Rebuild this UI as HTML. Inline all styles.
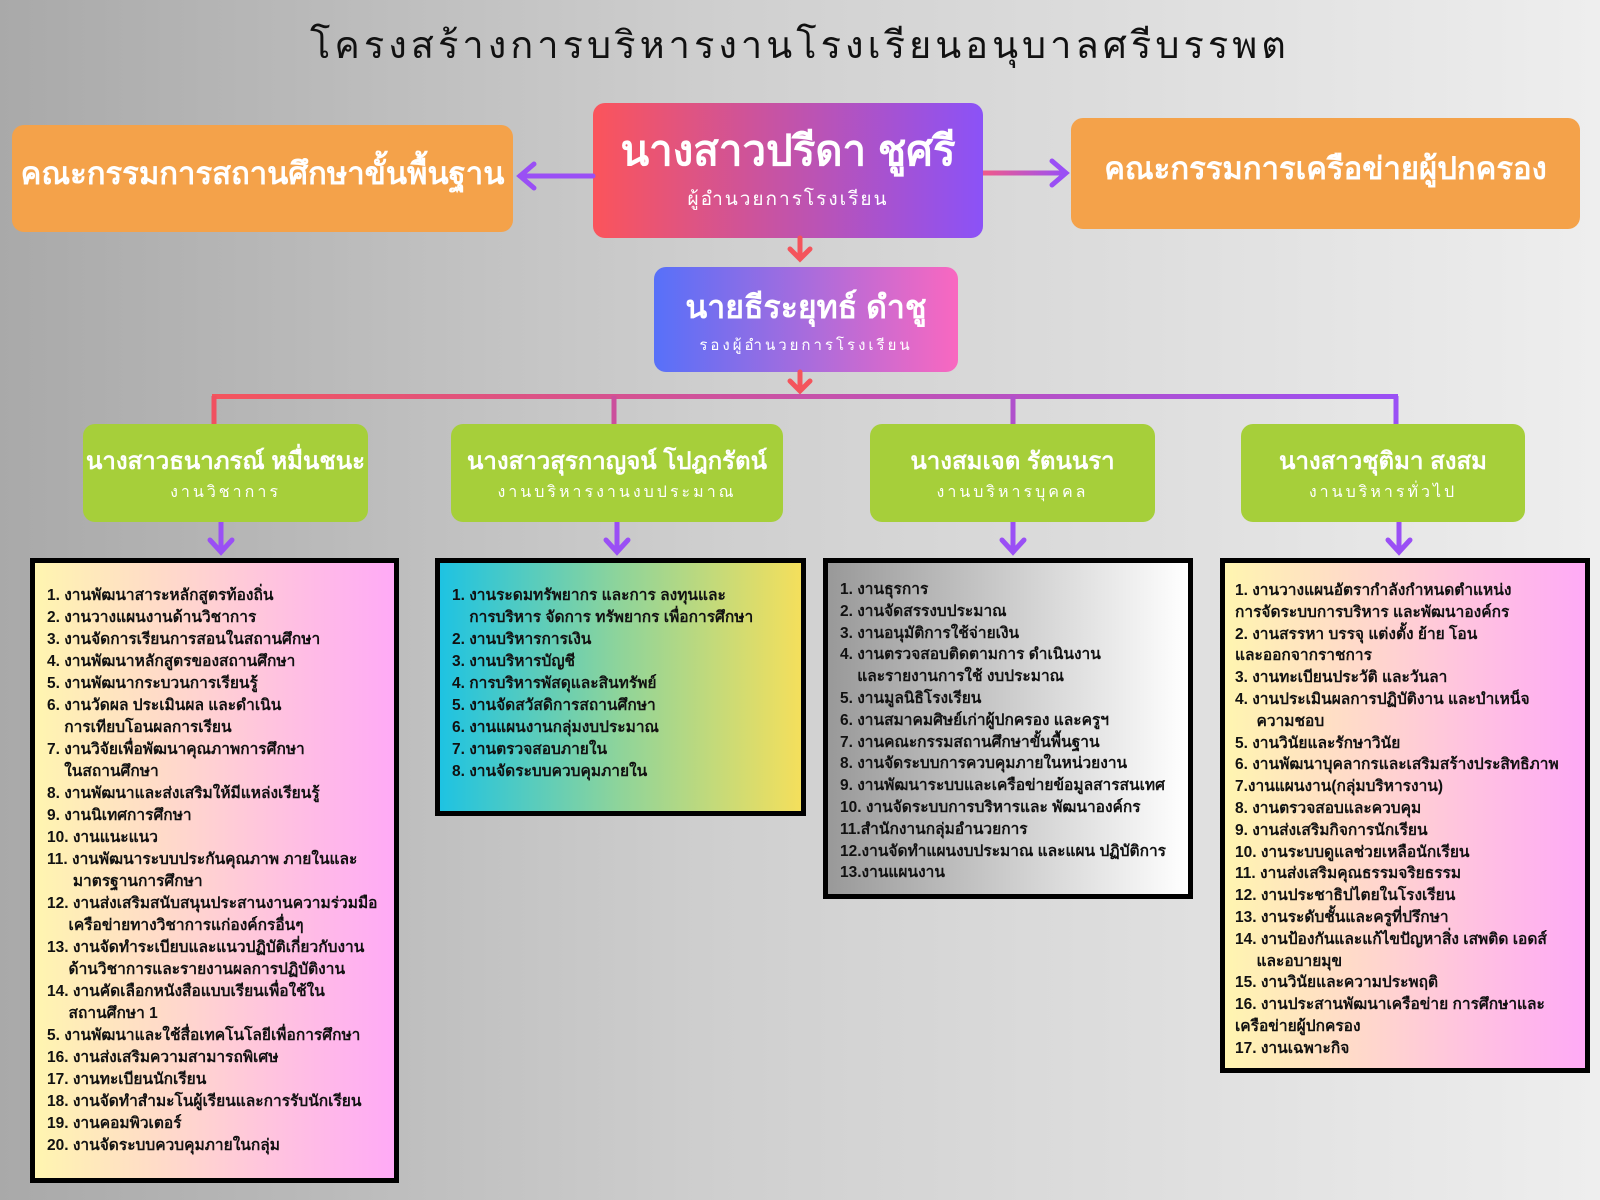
<!DOCTYPE html>
<html><head><meta charset="utf-8">
<style>
*{margin:0;padding:0;box-sizing:border-box}
body{width:1600px;height:1200px;position:relative;overflow:hidden;font-family:"Liberation Sans","DejaVu Sans",sans-serif;background:linear-gradient(90deg,#a9a9a9 0%,#cfcfcf 45%,#eeeeee 100%)}
.a{position:absolute}
.title{left:0;width:1600px;top:14px;text-align:center;font-size:38px;letter-spacing:4px;color:#111}
.box{position:absolute;border-radius:12px;color:#fff;text-align:center;display:flex;flex-direction:column;justify-content:center}
.org{background:#f4a24a;font-weight:bold;font-size:31px;padding-bottom:12px}
.grn{background:#a6cf3a}
.grn b{font-size:24px;display:block}
.grn span{font-size:16px;letter-spacing:3px}
.list{position:absolute;border:5px solid #000;font-weight:bold;font-size:15.5px;color:#111;white-space:pre;padding:14px 0 0 12px}
</style></head><body>
<div class="a title">โครงสร้างการบริหารงานโรงเรียนอนุบาลศรีบรรพต</div>
<div class="box org" style="left:12px;top:125px;width:501px;height:107px">คณะกรรมการสถานศึกษาขั้นพื้นฐาน</div>
<div class="box org" style="left:1071px;top:118px;width:509px;height:111px">คณะกรรมการเครือข่ายผู้ปกครอง</div>
<div class="box" style="left:593px;top:103px;width:390px;height:135px;background:linear-gradient(90deg,#fb545b,#8b52f7);padding-bottom:10px"><b style="font-size:42px">นางสาวปรีดา ชูศรี</b><span style="font-size:19px;letter-spacing:2px">ผู้อำนวยการโรงเรียน</span></div>
<div class="box" style="left:654px;top:267px;width:304px;height:105px;background:linear-gradient(90deg,#5770f9,#f968c0)"><b style="font-size:32px">นายธีระยุทธ์ ดำชู</b><span style="font-size:15px;letter-spacing:3px">รองผู้อำนวยการโรงเรียน</span></div>
<svg class="a" style="left:0;top:0" width="1600" height="1200">
<defs><linearGradient id="g" gradientUnits="userSpaceOnUse" x1="212" y1="0" x2="1398" y2="0"><stop offset="0" stop-color="#f4545c"/><stop offset="1" stop-color="#9a4ff5"/></linearGradient>
<linearGradient id="g2" gradientUnits="userSpaceOnUse" x1="983" y1="0" x2="1066" y2="0"><stop offset="0" stop-color="#f05a8a"/><stop offset="1" stop-color="#9a4ff5"/></linearGradient></defs>
<g stroke="#9a4ff5" stroke-width="5" fill="none" stroke-linecap="round">
<line x1="593" y1="176" x2="520" y2="176"/><polyline points="534,164 520,176 534,188"/>
</g>
<line x1="983" y1="173" x2="1064" y2="173" stroke="url(#g2)" stroke-width="5"/>
<polyline points="1052,161 1066,173 1052,185" stroke="#9a4ff5" stroke-width="5" fill="none" stroke-linecap="round"/>
<g stroke="#f4545c" stroke-width="5" fill="none" stroke-linecap="round">
<line x1="800" y1="238" x2="800" y2="258"/><polyline points="790,249 800,259 810,249"/>
<line x1="800" y1="372" x2="800" y2="390"/><polyline points="790,381 800,391 810,381"/>
</g>
<rect x="212" y="394" width="1186" height="5" fill="url(#g)"/>
<g stroke-width="5"><line x1="214" y1="396" x2="214" y2="425" stroke="#f05060"/><line x1="614" y1="396" x2="614" y2="425" stroke="#cb4f9c"/><line x1="1013" y1="396" x2="1013" y2="425" stroke="#b050cc"/><line x1="1396" y1="396" x2="1396" y2="425" stroke="#9a4ff5"/></g>
<g stroke="#9a4ff5" stroke-width="5" fill="none" stroke-linecap="round">
<line x1="221" y1="522" x2="221" y2="550"/><polyline points="210,540 221,552 232,540"/>
<line x1="617" y1="522" x2="617" y2="550"/><polyline points="606,540 617,552 628,540"/>
<line x1="1013" y1="522" x2="1013" y2="550"/><polyline points="1002,540 1013,552 1024,540"/>
<line x1="1399" y1="522" x2="1399" y2="550"/><polyline points="1388,540 1399,552 1410,540"/>
</g>
</svg>
<div class="box grn" style="left:83px;top:424px;width:285px;height:98px"><b>นางสาวธนาภรณ์ หมื่นชนะ</b><span>งานวิชาการ</span></div>
<div class="box grn" style="left:451px;top:424px;width:332px;height:98px"><b>นางสาวสุรกาญจน์ โปฎกรัตน์</b><span>งานบริหารงานงบประมาณ</span></div>
<div class="box grn" style="left:870px;top:424px;width:285px;height:98px"><b>นางสมเจต รัตนนรา</b><span>งานบริหารบุคคล</span></div>
<div class="box grn" style="left:1241px;top:424px;width:284px;height:98px"><b>นางสาวชุติมา สงสม</b><span>งานบริหารทั่วไป</span></div>
<div class="list" style="left:30px;top:558px;width:369px;height:625px;line-height:22px;padding-top:22px;background:linear-gradient(90deg,#fff5b0,#ffaaf6)">1. งานพัฒนาสาระหลักสูตรท้องถิ่น
2. งานวางแผนงานด้านวิชาการ
3. งานจัดการเรียนการสอนในสถานศึกษา
4. งานพัฒนาหลักสูตรของสถานศึกษา
5. งานพัฒนากระบวนการเรียนรู้
6. งานวัดผล ประเมินผล และดำเนิน
    การเทียบโอนผลการเรียน
7. งานวิจัยเพื่อพัฒนาคุณภาพการศึกษา
    ในสถานศึกษา
8. งานพัฒนาและส่งเสริมให้มีแหล่งเรียนรู้
9. งานนิเทศการศึกษา
10. งานแนะแนว
11. งานพัฒนาระบบประกันคุณภาพ ภายในและ
      มาตรฐานการศึกษา
12. งานส่งเสริมสนับสนุนประสานงานความร่วมมือ
     เครือข่ายทางวิชาการแก่องค์กรอื่นๆ
13. งานจัดทำระเบียบและแนวปฏิบัติเกี่ยวกับงาน
     ด้านวิชาการและรายงานผลการปฏิบัติงาน
14. งานคัดเลือกหนังสือแบบเรียนเพื่อใช้ใน
     สถานศึกษา 1
5. งานพัฒนาและใช้สื่อเทคโนโลยีเพื่อการศึกษา
16. งานส่งเสริมความสามารถพิเศษ
17. งานทะเบียนนักเรียน
18. งานจัดทำสำมะโนผู้เรียนและการรับนักเรียน
19. งานคอมพิวเตอร์
20. งานจัดระบบควบคุมภายในกลุ่ม</div>
<div class="list" style="left:435px;top:558px;width:371px;height:258px;line-height:22px;padding-top:22px;background:linear-gradient(90deg,#1ec3e2,#8fd49a 50%,#f4df5c)">1. งานระดมทรัพยากร และการ ลงทุนและ
    การบริหาร จัดการ ทรัพยากร เพื่อการศึกษา
2. งานบริหารการเงิน
3. งานบริหารบัญชี
4. การบริหารพัสดุและสินทรัพย์
5. งานจัดสวัสดิการสถานศึกษา
6. งานแผนงานกลุ่มงบประมาณ
7. งานตรวจสอบภายใน
8. งานจัดระบบควบคุมภายใน</div>
<div class="list" style="left:823px;top:558px;width:370px;height:341px;line-height:21.8px;padding-top:16px;background:linear-gradient(90deg,#999,#fff)">1. งานธุรการ
2. งานจัดสรรงบประมาณ
3. งานอนุมัติการใช้จ่ายเงิน
4. งานตรวจสอบติดตามการ ดำเนินงาน
    และรายงานการใช้ งบประมาณ
5. งานมูลนิธิโรงเรียน
6. งานสมาคมศิษย์เก่าผู้ปกครอง และครูฯ
7. งานคณะกรรมสถานศึกษาขั้นพื้นฐาน
8. งานจัดระบบการควบคุมภายในหน่วยงาน
9. งานพัฒนาระบบและเครือข่ายข้อมูลสารสนเทศ
10. งานจัดระบบการบริหารและ พัฒนาองค์กร
11.สำนักงานกลุ่มอำนวยการ
12.งานจัดทำแผนงบประมาณ และแผน ปฏิบัติการ
13.งานแผนงาน</div>
<div class="list" style="left:1220px;top:558px;width:370px;height:515px;line-height:21.8px;padding:17px 0 0 10px;background:linear-gradient(90deg,#fff5b0,#ffaaf6)">1. งานวางแผนอัตรากำลังกำหนดตำแหน่ง
การจัดระบบการบริหาร และพัฒนาองค์กร
2. งานสรรหา บรรจุ แต่งตั้ง ย้าย โอน
และออกจากราชการ
3. งานทะเบียนประวัติ และวันลา
4. งานประเมินผลการปฏิบัติงาน และบำเหน็จ
     ความชอบ
5. งานวินัยและรักษาวินัย
6. งานพัฒนาบุคลากรและเสริมสร้างประสิทธิภาพ
7.งานแผนงาน(กลุ่มบริหารงาน)
8. งานตรวจสอบและควบคุม
9. งานส่งเสริมกิจการนักเรียน
10. งานระบบดูแลช่วยเหลือนักเรียน
11. งานส่งเสริมคุณธรรมจริยธรรม
12. งานประชาธิปไตยในโรงเรียน
13. งานระดับชั้นและครูที่ปรึกษา
14. งานป้องกันและแก้ไขปัญหาสิ่ง เสพติด เอดส์
     และอบายมุข
15. งานวินัยและความประพฤติ
16. งานประสานพัฒนาเครือข่าย การศึกษาและ
เครือข่ายผู้ปกครอง
17. งานเฉพาะกิจ</div>
</body></html>
